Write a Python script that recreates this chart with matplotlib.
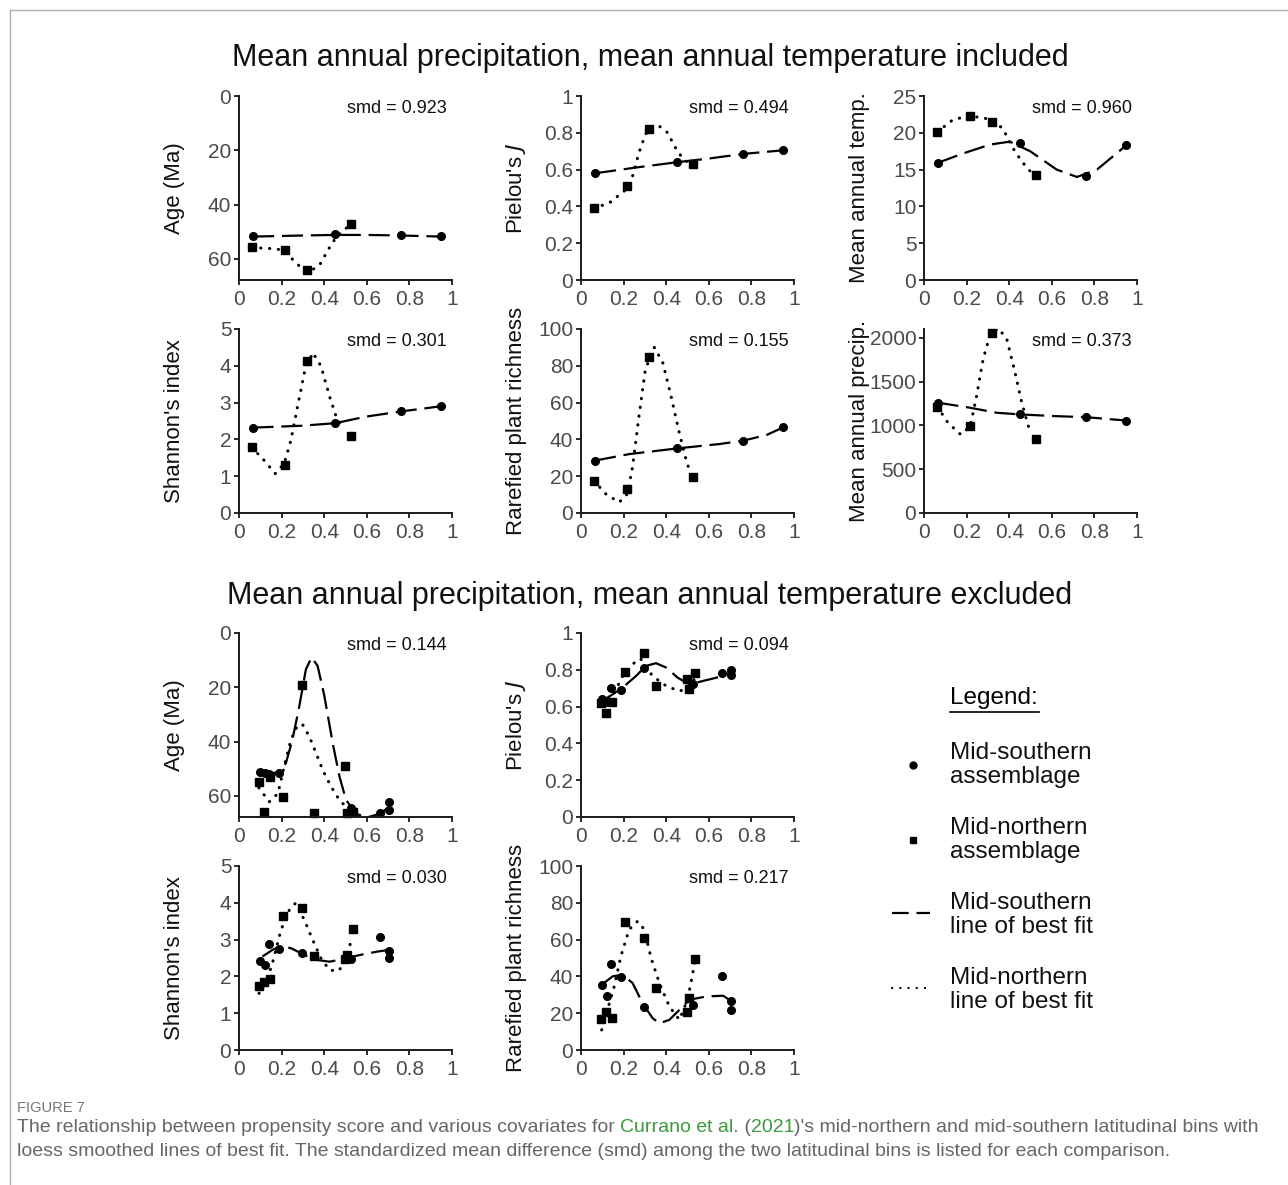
#Propensity score versus covariates for the two latitudinal bins,
#with loess lines of best fit, drawn as a grid of small panels.

import numpy as np
from matplotlib import pyplot as plt
from matplotlib.lines import Line2D


plt.rcParams['font.family'] = ['Liberation Sans', 'DejaVu Sans']


#Propensity scores (x values) for each bin, covariates included / excluded.
ps_south_inc = [0.066, 0.452, 0.761, 0.950]
ps_north_inc = [0.060, 0.216, 0.320, 0.525]
ps_south_exc = [0.097, 0.120, 0.140, 0.187, 0.294, 0.524, 0.664, 0.706, 0.706]
ps_north_exc = [0.093, 0.118, 0.146, 0.205, 0.294, 0.352, 0.498, 0.507, 0.536]

#Covariate values, MAP and MAT included.
age_inc_s = [51.5, 51.0, 51.3, 51.5]
age_inc_n = [55.8, 56.9, 64.1, 47.1]
pielou_inc_s = [0.582, 0.644, 0.687, 0.704]
pielou_inc_n = [0.391, 0.513, 0.818, 0.631]
temp_inc_s = [15.9, 18.6, 14.1, 18.3]
temp_inc_n = [20.1, 22.3, 21.5, 14.3]
shannon_inc_s = [2.32, 2.44, 2.76, 2.90]
shannon_inc_n = [1.79, 1.31, 4.13, 2.09]
rich_inc_s = [28.5, 35.1, 39.3, 46.6]
rich_inc_n = [17.6, 12.8, 84.6, 19.4]
precip_inc_s = [1260, 1125, 1094, 1055]
precip_inc_n = [1214, 990, 2053, 844]

#Covariate values, MAP and MAT excluded.
age_exc_s = [51.1, 51.7, 52.0, 51.5, 19.1, 64.5, 66.3, 62.2, 65.1]
age_exc_n = [54.9, 66.0, 53.2, 60.4, 19.1, 66.2, 49.0, 66.2, 66.0]
pielou_exc_s = [0.644, 0.625, 0.703, 0.688, 0.808, 0.721, 0.781, 0.801, 0.772]
pielou_exc_n = [0.620, 0.566, 0.623, 0.788, 0.889, 0.712, 0.752, 0.693, 0.781]
shannon_exc_s = [2.43, 2.31, 2.88, 2.74, 2.63, 2.47, 3.08, 2.69, 2.51]
shannon_exc_n = [1.75, 1.86, 1.92, 3.65, 3.87, 2.56, 2.47, 2.58, 3.28]
rich_exc_s = [35.1, 29.1, 46.7, 39.6, 23.6, 24.7, 40.0, 26.4, 21.8]
rich_exc_n = [16.9, 20.4, 17.6, 69.6, 60.6, 33.6, 20.5, 28.2, 49.5]

#Loess lines of best fit, as (propensity score, value) pairs.
fit_age_inc_s = [(0.066, 51.8), (0.30, 51.4), (0.45, 51.2), (0.60, 51.2), (0.76, 51.4), (0.948, 51.8)]
fit_age_inc_n = [(0.060, 55.8), (0.144, 56.2), (0.207, 56.7), (0.254, 60.4), (0.293, 63.4), (0.332, 64.7),
                 (0.379, 62.2), (0.418, 56.7), (0.458, 51.8), (0.512, 48.1)]
fit_pielou_inc_s = [(0.066, 0.580), (0.25, 0.610), (0.45, 0.640), (0.60, 0.660), (0.76, 0.685), (0.95, 0.705)]
fit_pielou_inc_n = [(0.060, 0.390), (0.132, 0.418), (0.211, 0.491), (0.242, 0.564), (0.272, 0.691), (0.302, 0.791),
                    (0.340, 0.840), (0.368, 0.836), (0.407, 0.800), (0.439, 0.727), (0.470, 0.673), (0.500, 0.640)]
fit_temp_inc_s = [(0.063, 15.9), (0.184, 17.2), (0.310, 18.4), (0.403, 18.8), (0.498, 17.5), (0.623, 15.0),
                  (0.718, 14.0), (0.812, 15.0), (0.950, 18.3)]
fit_temp_inc_n = [(0.062, 20.1), (0.137, 21.8), (0.217, 22.3), (0.320, 21.8), (0.372, 20.5), (0.411, 18.2),
                  (0.459, 16.1), (0.498, 14.8)]
fit_shannon_inc_s = [(0.063, 2.32), (0.29, 2.37), (0.451, 2.44), (0.597, 2.62), (0.761, 2.76), (0.948, 2.90)]
fit_shannon_inc_n = [(0.059, 1.79), (0.118, 1.43), (0.170, 1.07), (0.212, 1.34), (0.244, 1.98), (0.275, 2.90),
                     (0.307, 3.81), (0.346, 4.36), (0.385, 3.99), (0.425, 3.17), (0.456, 2.62), (0.480, 2.39)]
fit_rich_inc_s = [(0.066, 28.5), (0.226, 32.0), (0.451, 35.1), (0.651, 37.5), (0.761, 39.3), (0.871, 42.4),
                  (0.951, 46.6)]
fit_rich_inc_n = [(0.060, 17.6), (0.116, 10.4), (0.179, 5.8), (0.218, 10.4), (0.242, 25.0), (0.272, 52.4),
                  (0.302, 78.0), (0.344, 90.0), (0.384, 81.7), (0.423, 63.4), (0.462, 43.3), (0.494, 28.7),
                  (0.509, 23.2)]
fit_precip_inc_s = [(0.063, 1260), (0.215, 1202), (0.341, 1144), (0.450, 1125), (0.623, 1105), (0.760, 1094),
                    (0.950, 1055)]
fit_precip_inc_n = [(0.062, 1214), (0.113, 1029), (0.173, 894), (0.217, 990), (0.247, 1336), (0.278, 1761),
                    (0.310, 2030), (0.348, 2108), (0.388, 1992), (0.427, 1607), (0.459, 1260), (0.490, 990),
                    (0.498, 932)]

fit_age_exc_s = [(0.097, 51.5), (0.140, 52.0), (0.190, 51.1), (0.220, 48.0), (0.251, 39.3), (0.283, 27.0),
                 (0.314, 13.4), (0.341, 9.0), (0.369, 12.1), (0.401, 23.3), (0.440, 40.6), (0.472, 53.0),
                 (0.503, 61.6), (0.550, 66.6), (0.600, 68.0), (0.660, 66.6), (0.706, 64.1)]
fit_age_exc_n = [(0.093, 57.0), (0.142, 62.2), (0.183, 59.1), (0.212, 49.2), (0.244, 39.3), (0.275, 34.0),
                 (0.299, 33.8), (0.330, 38.1), (0.362, 44.3), (0.393, 50.5), (0.433, 56.7), (0.472, 61.6),
                 (0.519, 65.3)]
fit_pielou_exc_s = [(0.097, 0.630), (0.148, 0.666), (0.195, 0.703), (0.258, 0.766), (0.305, 0.821),
                    (0.352, 0.836), (0.400, 0.812), (0.454, 0.757), (0.509, 0.721), (0.572, 0.739),
                    (0.635, 0.757), (0.709, 0.788)]
fit_pielou_exc_n = [(0.093, 0.620), (0.148, 0.657), (0.200, 0.776), (0.258, 0.848), (0.280, 0.860),
                    (0.336, 0.766), (0.400, 0.712), (0.462, 0.684), (0.509, 0.703), (0.536, 0.760)]
fit_shannon_exc_s = [(0.110, 2.54), (0.157, 2.72), (0.200, 2.83), (0.247, 2.76), (0.307, 2.58), (0.362, 2.45),
                     (0.425, 2.40), (0.487, 2.47), (0.566, 2.58), (0.645, 2.67), (0.704, 2.72)]
fit_shannon_exc_n = [(0.094, 1.54), (0.126, 1.81), (0.157, 2.36), (0.197, 3.26), (0.236, 3.80), (0.267, 4.00),
                     (0.307, 3.53), (0.346, 2.99), (0.385, 2.49), (0.425, 2.17), (0.468, 2.15), (0.503, 2.45),
                     (0.527, 2.99)]
fit_rich_exc_s = [(0.108, 36.4), (0.148, 40.0), (0.195, 40.9), (0.242, 36.4), (0.289, 25.5), (0.336, 17.3),
                  (0.368, 14.5), (0.415, 16.4), (0.462, 21.8), (0.509, 27.3), (0.588, 29.1), (0.667, 29.5),
                  (0.709, 26.4)]
fit_rich_exc_n = [(0.097, 10.9), (0.124, 21.8), (0.156, 34.5), (0.187, 50.9), (0.226, 65.5), (0.266, 70.0),
                  (0.297, 65.5), (0.329, 50.0), (0.368, 36.4), (0.415, 23.6), (0.462, 16.4), (0.500, 27.3),
                  (0.525, 41.8), (0.533, 47.3)]

#Standardized mean differences.
smd_inc = ['0.923', '0.494', '0.960', '0.301', '0.155', '0.373']
smd_exc = ['0.144', '0.094', '0.030', '0.217']


#Line styles for the two bins.
dash_style = dict(color='black', lw=1.6, linestyle=(0, (9.5, 3.5)))
dot_style = dict(color='black', lw=2.2, linestyle=(0, (0.1, 2.8)), dash_capstyle='round')

W, H = 1288, 1185
fig = plt.figure(figsize=(W / 100, H / 100), dpi=100)

#Panel geometry in pixels: x of the left spine and y of the bottom spine.
col_x = [239, 581, 924]
row_y = [280, 513, 817, 1050]
pw, ph = 213, 184


def make_panel(col, row):
    return fig.add_axes([col_x[col] / W, 1 - row_y[row] / H, pw / W, ph / H])


def style_panel(ax, ylabel, ylim, yticks, smd):
    ax.set_xlim(0, 1)
    ax.set_ylim(*ylim)
    ax.set_xticks([0, 0.2, 0.4, 0.6, 0.8, 1])
    ax.set_xticklabels(['0', '0.2', '0.4', '0.6', '0.8', '1'])
    ax.set_yticks(yticks)
    ax.set_yticklabels(['{:g}'.format(t) for t in yticks])
    for side in ['top', 'right']:
        ax.spines[side].set_visible(False)
    for side in ['left', 'bottom']:
        ax.spines[side].set_linewidth(1.4)
        ax.spines[side].set_color('#1a1a1a')
    ax.tick_params(length=3.5, width=1.3, color='#1a1a1a', labelsize=15, labelcolor='#4a4a4a')
    ax.tick_params(axis='y', pad=2)
    ax.tick_params(axis='x', pad=4)
    ax.set_ylabel(ylabel, fontsize=16, color='#111111', va='center')
    ax.yaxis.set_label_coords(-0.305, 0.5)
    ax.text(0.975, 0.93, 'smd = ' + smd, transform=ax.transAxes, ha='right', va='center',
            fontsize=13, color='#111111')
    ax.patch.set_alpha(0)


def draw_bins(ax, xs, ys, xn, yn, fit_s, fit_n):
    fs = np.array(fit_s)
    fn = np.array(fit_n)
    ax.plot(fn[:, 0], fn[:, 1], **dot_style)
    ax.plot(fs[:, 0], fs[:, 1], **dash_style)
    ax.plot(xn, yn, 's', color='black', ms=6, clip_on=False)
    ax.plot(xs, ys, 'o', color='black', ms=5.5, clip_on=False)


#Top block: MAP and MAT included.
ax = make_panel(0, 0)
draw_bins(ax, ps_south_inc, age_inc_s, ps_north_inc, age_inc_n, fit_age_inc_s, fit_age_inc_n)
style_panel(ax, 'Age (Ma)', (67.8, 0), [0, 20, 40, 60], smd_inc[0])
first_ax = ax

ax = make_panel(1, 0)
draw_bins(ax, ps_south_inc, pielou_inc_s, ps_north_inc, pielou_inc_n, fit_pielou_inc_s, fit_pielou_inc_n)
style_panel(ax, "Pielou's $\\it{J}$", (0, 1), [0, 0.2, 0.4, 0.6, 0.8, 1], smd_inc[1])

ax = make_panel(2, 0)
draw_bins(ax, ps_south_inc, temp_inc_s, ps_north_inc, temp_inc_n, fit_temp_inc_s, fit_temp_inc_n)
style_panel(ax, 'Mean annual temp.', (0, 25), [0, 5, 10, 15, 20, 25], smd_inc[2])

ax = make_panel(0, 1)
draw_bins(ax, ps_south_inc, shannon_inc_s, ps_north_inc, shannon_inc_n, fit_shannon_inc_s, fit_shannon_inc_n)
style_panel(ax, "Shannon's index", (0, 5), [0, 1, 2, 3, 4, 5], smd_inc[3])

ax = make_panel(1, 1)
draw_bins(ax, ps_south_inc, rich_inc_s, ps_north_inc, rich_inc_n, fit_rich_inc_s, fit_rich_inc_n)
style_panel(ax, 'Rarefied plant richness', (0, 100), [0, 20, 40, 60, 80, 100], smd_inc[4])

ax = make_panel(2, 1)
draw_bins(ax, ps_south_inc, precip_inc_s, ps_north_inc, precip_inc_n, fit_precip_inc_s, fit_precip_inc_n)
style_panel(ax, 'Mean annual precip.', (0, 2100), [0, 500, 1000, 1500, 2000], smd_inc[5])

#Bottom block: MAP and MAT excluded.
ax = make_panel(0, 2)
draw_bins(ax, ps_south_exc, age_exc_s, ps_north_exc, age_exc_n, fit_age_exc_s, fit_age_exc_n)
style_panel(ax, 'Age (Ma)', (67.8, 0), [0, 20, 40, 60], smd_exc[0])

ax = make_panel(1, 2)
draw_bins(ax, ps_south_exc, pielou_exc_s, ps_north_exc, pielou_exc_n, fit_pielou_exc_s, fit_pielou_exc_n)
style_panel(ax, "Pielou's $\\it{J}$", (0, 1), [0, 0.2, 0.4, 0.6, 0.8, 1], smd_exc[1])

ax = make_panel(0, 3)
draw_bins(ax, ps_south_exc, shannon_exc_s, ps_north_exc, shannon_exc_n, fit_shannon_exc_s, fit_shannon_exc_n)
style_panel(ax, "Shannon's index", (0, 5), [0, 1, 2, 3, 4, 5], smd_exc[2])

ax = make_panel(1, 3)
draw_bins(ax, ps_south_exc, rich_exc_s, ps_north_exc, rich_exc_n, fit_rich_exc_s, fit_rich_exc_n)
style_panel(ax, 'Rarefied plant richness', (0, 100), [0, 20, 40, 60, 80, 100], smd_exc[3])


#Block titles.
fig.text(650 / W, 1 - 58 / H, 'Mean annual precipitation, mean annual temperature included',
         ha='center', va='center', fontsize=22, color='#111111')
fig.text(650 / W, 1 - 596 / H, 'Mean annual precipitation, mean annual temperature excluded',
         ha='center', va='center', fontsize=22, color='#111111')


#Legend, laid out in its own pixel-coordinate axes.
leg = fig.add_axes([880 / W, 1 - 1030 / H, 260 / W, 350 / H])
leg.set_xlim(880, 1140)
leg.set_ylim(1030, 680)
leg.axis('off')
leg.text(950, 698, 'Legend:', fontsize=17.5, va='center', ha='left')
leg.plot([950, 1039], [712, 712], color='black', lw=1.2)
leg_text = ['Mid-southern\nassemblage', 'Mid-northern\nassemblage',
            'Mid-southern\nline of best fit', 'Mid-northern\nline of best fit']
leg_y = [765, 840, 915, 990]
for label, y in zip(leg_text, leg_y):
    leg.text(950, y, label, fontsize=17.5, va='center', ha='left', linespacing=1.08, color='#111111')
leg.plot([913], [leg_y[0]], 'o', color='black', ms=5)
leg.plot([913], [leg_y[1]], 's', color='black', ms=5)
leg.plot([892, 930], [leg_y[2] - 2, leg_y[2] - 2], color='black', lw=1.6, linestyle=(0, (7.5, 3.5)))
leg.plot([892, 930], [leg_y[3] - 2, leg_y[3] - 2], color='black', lw=1.6,
         linestyle=(0, (0.1, 3.6)), dash_capstyle='round')


#Frame lines round the figure area.
fig.add_artist(Line2D([10 / W, 10 / W], [0, 1 - 10 / H], color='#b0b0b0', lw=1))
fig.add_artist(Line2D([10 / W, 1], [1 - 10 / H, 1 - 10 / H], color='#b0b0b0', lw=1))


#Caption, with the citation in link colour.
cap_color = '#666666'
link_color = '#3c9a3c'
cap_size = 14
fig.text(17 / W, 1 - 1108 / H, 'FIGURE 7', fontsize=10.5, color='#777777', va='center')
prev = fig.text(17 / W, 1 - 1127 / H,
                'The relationship between propensity score and various covariates for ',
                fontsize=cap_size, color=cap_color, va='center')
parts = [('Currano et al.', link_color), (' (', cap_color), ('2021', link_color),
         (")'s mid-northern and mid-southern latitudinal bins with", cap_color)]
for s, c in parts:
    prev = first_ax.annotate(s, xy=(1, 0.5), xycoords=prev, va='center', ha='left',
                             fontsize=cap_size, color=c, annotation_clip=False)
fig.text(17 / W, 1 - 1151 / H,
         'loess smoothed lines of best fit. The standardized mean difference (smd) among the two '
         'latitudinal bins is listed for each comparison.',
         fontsize=cap_size, color=cap_color, va='center')


plt.savefig('out.png', dpi=100)
